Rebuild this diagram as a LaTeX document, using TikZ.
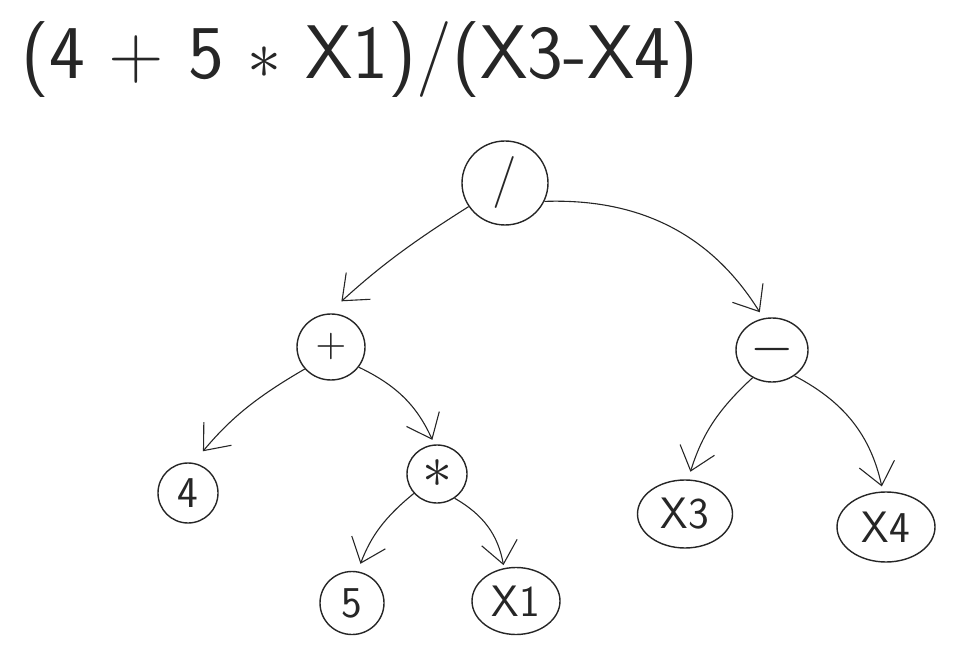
\documentclass[tikz,border=0pt]{standalone}
\usepackage{tikz}
\usetikzlibrary{arrows.meta,shapes,positioning}
\newcommand{\opsym}[2]{\scalebox{#1}{\normalsize$#2$}}

\begin{document}
\begin{tikzpicture}[x=1pt,y=1pt,
  op/.style={ellipse,draw=black!85,line width=1.4pt,inner sep=0pt,text=black!85,font=\sffamily\fontsize{44}{48}\selectfont},
  edge/.style={draw=black!85,line width=1.1pt,-{Straight Barb[length=22pt,width=36pt,line width=1.1pt]}}]
\useasboundingbox (0,0) rectangle (957,664);

% Expression
\node[anchor=west,text=black!85,font=\sffamily\fontsize{76}{84}\selectfont] (expr) at (18,604) {(4 + 5 \opsym{6.8}{\ast} X1)/(X3-X4)};

% Operator nodes
\node[op,minimum width=86pt,minimum height=84pt,font=\sffamily\fontsize{52}{56}\selectfont] (div) at (505,481) {/};
\node[op,minimum width=68pt,minimum height=66pt] (plus) at (331,317) {\opsym{4}{+}};
\node[op,minimum width=72pt,minimum height=64pt] (minus) at (772,314) {\opsym{5.6}{-}};
\node[op,minimum width=60pt,minimum height=58pt] (star) at (437,190) {\opsym{6}{\ast}};

% Leaf nodes
\node[op,minimum width=60pt,minimum height=60pt] (four) at (188,171) {4};
\node[op,minimum width=64pt,minimum height=63pt] (five) at (352,61) {5};
\node[op,minimum width=88pt,minimum height=67pt] (xone) at (516,63) {X1};
\node[op,minimum width=95pt,minimum height=68pt] (xthree) at (685,150) {X3};
\node[op,minimum width=98pt,minimum height=70pt] (xfour) at (886,137) {X4};

% Edges
\draw[edge,shorten >=18pt] (div.213) to[bend right=5] (plus.95);
\draw[edge,shorten >=7pt] (div.335) to[bend left=30] (minus.105);
\draw[edge,shorten >=15pt] (plus.220) to[bend right=10] (four.80);
\draw[edge,shorten >=5pt] (plus.324) to[bend left=20] (star.95);
\draw[edge,shorten >=8pt] (minus.235) to[bend right=15] (xthree.85);
\draw[edge,shorten >=5pt] (minus.311) to[bend left=25] (xfour.95);
\draw[edge,shorten >=8pt] (star.220) to[bend right=15] (five.80);
\draw[edge,shorten >=3pt] (star.306) to[bend left=25] (xone.110);
\end{tikzpicture}
\end{document}
